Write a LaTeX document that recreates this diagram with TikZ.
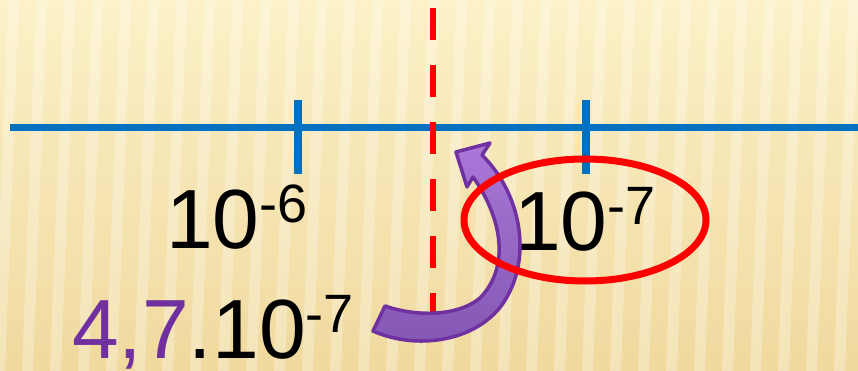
\documentclass[tikz,border=0pt]{standalone}
\usepackage{fontspec}
\setmainfont{Liberation Sans}
\usetikzlibrary{positioning,calc}

\definecolor{axisblue}{HTML}{0070C0}
\definecolor{markred}{HTML}{FF0000}
\definecolor{numpurple}{HTML}{7030A0}
\definecolor{arrowtop}{HTML}{AA78D8}
\definecolor{arrowbot}{HTML}{8256B2}
\definecolor{paperlight}{HTML}{FCF1C8}
\definecolor{paperdark}{HTML}{F0D99E}

% power of ten with a raised exponent
\newcommand{\tenpow}[2]{#1\raisebox{26pt}{\fontsize{54}{60}\selectfont #2}}

\begin{document}
\begin{tikzpicture}[
  x=1pt, y=-1pt,
  axis/.style={draw=axisblue, line width=7pt},
  tickmark/.style={draw=axisblue, line width=8pt},
  cut/.style={draw=markred, line width=5.5pt, dash pattern=on 32pt off 25pt},
  ring/.style={draw=markred, line width=7pt},
  num/.style={font=\fontsize{84}{90}\selectfont, inner sep=0pt, anchor=base},
  curvearrow/.style={draw=numpurple, line width=3.5pt, line join=round,
    top color=arrowtop, bottom color=arrowbot},
  stripe/.style={fill=white, opacity=0.28}
]
\useasboundingbox (0,0) rectangle (858,371);

% paper background
\shade[top color=paperlight, bottom color=paperdark] (0,0) rectangle (858,371);
\foreach \sx in {-20,8,...,900}
  \fill[stripe] (\sx,0) -- (\sx+11,0) -- (\sx-3,371) -- (\sx-14,371) -- cycle;

% number line
\coordinate (axL) at (10,128);
\coordinate (axR) at (858,128);
\coordinate (t6) at (298,128);
\coordinate (t7) at (586,128);
\draw[axis] (axL) -- (axR);
\draw[tickmark] ($(t6)+(0,-28)$) -- ($(t6)+(0,46)$);
\draw[tickmark] ($(t7)+(0,-28)$) -- ($(t7)+(0,46)$);

% dashed cut
\coordinate (cutT) at (433,8);
\coordinate (cutB) at (433,320);
\draw[cut] (cutT) -- (cutB);

% labels
\node[num] (pm6) at (237,248) {\tenpow{10}{-6}};
\node[num] (pm7) at (585,250) {\tenpow{10}{-7}};
\node[num, anchor=base west] (value) at (72,358)
  {\textcolor{numpurple}{4,7}.\tenpow{10}{-7}};

% curved arrow
\path[curvearrow] (385,306) -- (373,331)
  .. controls (420,352) and (485,340) .. (508,295)
  .. controls (530,255) and (522,195) .. (482,155)
  -- (490,143) -- (456,152) -- (467,187) -- (473,177)
  .. controls (500,215) and (512,265) .. (480,298)
  .. controls (460,315) and (420,318) .. cycle;

% ring round the chosen power
\coordinate (ringC) at (585,220);
\draw[ring] (ringC) ellipse [x radius=121, y radius=61];

\end{tikzpicture}
\end{document}
